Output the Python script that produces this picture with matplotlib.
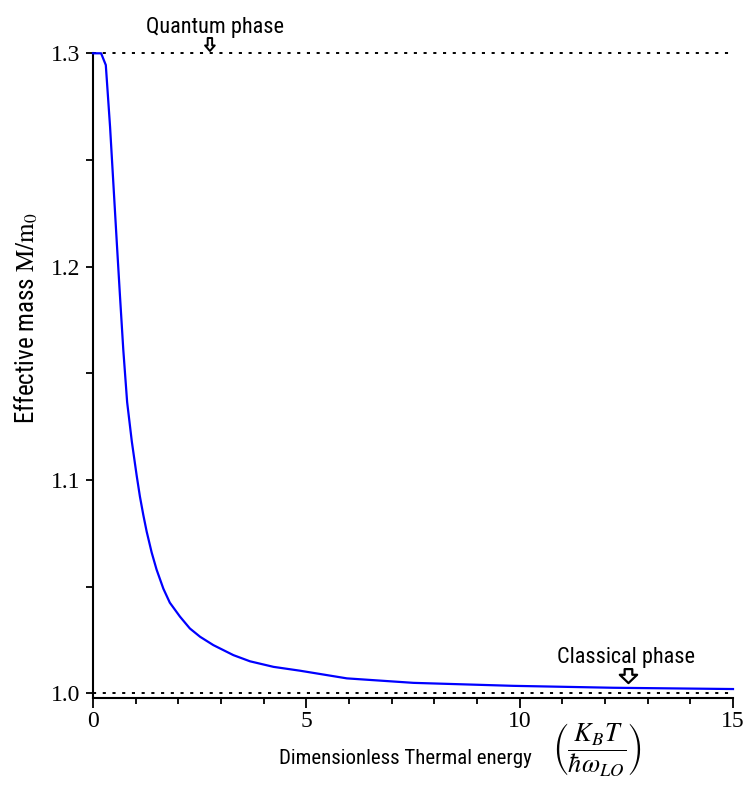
import matplotlib
matplotlib.use("Agg")
import matplotlib.pyplot as plt
from matplotlib import font_manager
from matplotlib.ticker import FixedLocator

# ---- data ----
thermal_energy = [0, 0.19, 0.30, 0.40, 0.48, 0.56, 0.63, 0.71, 0.80, 0.91,
                  1.024, 1.10, 1.18, 1.258, 1.375, 1.49, 1.65, 1.80, 2.04, 2.27,
                  2.51, 2.82, 3.29, 3.68, 4.23, 4.85, 5.95, 7.51, 9.85, 12.19, 15]
effective_mass = [1.3, 1.3, 1.2945, 1.2655, 1.2380, 1.2105, 1.1870, 1.1610,
                  1.1365, 1.1180, 1.1020, 1.0922, 1.0835, 1.0758, 1.0660,
                  1.0580, 1.0490, 1.0425, 1.0359, 1.0304, 1.0265, 1.0226,
                  1.0179, 1.0150, 1.0124, 1.0106, 1.0070, 1.0049, 1.0035,
                  1.0026, 1.0020]
quantum_level = 1.3
classical_level = 1.0
x_major = [0, 5, 10, 15]
x_labels = ["0", "5", "10", "15"]
y_major = [1.0, 1.1, 1.2, 1.3]
y_labels = ["1.0", "1.1", "1.2", "1.3"]
y_minor = [1.05, 1.15, 1.25]
x_minor = list(range(0, 16))

# ---- fonts ----
avail = {f.name for f in font_manager.fontManager.ttflist}
cond = None
for cand in ["Liberation Sans Narrow", "DejaVu Sans Condensed", "Roboto Condensed",
             "Open Sans Condensed", "Noto Sans Display"]:
    if cand in avail:
        cond = cand
        break
if cond is None:
    cond = "Liberation Sans"
serif = "Liberation Serif"
plt.rcParams["mathtext.fontset"] = "stix"

fig = plt.figure(figsize=(7.51, 7.86), dpi=100)
ax = fig.add_axes([93 / 751, 1 - 698.3 / 786, 640 / 751, (698.3 - 53.3) / 786])
ax.set_xlim(0, 15)
ax.set_ylim(0.99766, 1.3)
PX = 1 / 2133.0  # data units of y per pixel

# dotted reference lines
dash = (0, (1.6, 3.4))
ax.plot([0, 15], [quantum_level, quantum_level], color="black", lw=1.4,
        linestyle=dash, clip_on=False, zorder=2)
ax.plot([0, 15], [classical_level, classical_level], color="black", lw=1.4,
        linestyle=dash, clip_on=False, zorder=2)

ax.plot(thermal_energy, effective_mass, color="#0000ff", lw=1.6, clip_on=False,
        zorder=3, solid_joinstyle="round")

for s in ["top", "right"]:
    ax.spines[s].set_visible(False)
for s in ["left", "bottom"]:
    ax.spines[s].set_linewidth(1.5)

ax.xaxis.set_major_locator(FixedLocator(x_major))
ax.xaxis.set_minor_locator(FixedLocator(x_minor))
ax.yaxis.set_major_locator(FixedLocator(y_major))
ax.yaxis.set_minor_locator(FixedLocator(y_minor))
ax.set_xticklabels(x_labels)
ax.set_yticklabels(y_labels)
ax.tick_params(axis="x", which="major", direction="out", length=7, width=1.3, pad=2)
ax.tick_params(axis="x", which="minor", direction="out", length=4, width=1.3)
ax.tick_params(axis="y", which="major", direction="out", length=5, width=1.3, pad=4)
ax.tick_params(axis="y", which="minor", direction="out", length=5, width=1.3)
for lab in ax.get_xticklabels() + ax.get_yticklabels():
    lab.set_fontfamily(serif)
    lab.set_fontsize(17)

# annotations
ax.text(2.86, 1.3 + (53.3 - 33) * PX, "Quantum phase", family=cond, fontsize=16,
        ha="center", va="baseline", clip_on=False)
ax.annotate("", xy=(2.74, 1.3 + (53.3 - 51) * PX), xytext=(2.74, 1.3 + (53.3 - 38) * PX),
            arrowprops=dict(arrowstyle="simple,head_length=0.4,head_width=0.7,tail_width=0.32",
                            fc="white", ec="black", lw=1.4, shrinkA=0, shrinkB=0),
            annotation_clip=False)

ax.text(12.49, 1.3 - (663 - 53.3) * PX, "Classical phase", family=cond, fontsize=16,
        ha="center", va="baseline", clip_on=False)
ax.annotate("", xy=(12.55, 1.3 - (683 - 53.3) * PX), xytext=(12.55, 1.3 - (669 - 53.3) * PX),
            arrowprops=dict(arrowstyle="simple,head_length=0.6,head_width=1.25,tail_width=0.55",
                            fc="white", ec="black", lw=1.6, shrinkA=0, shrinkB=0),
            annotation_clip=False)

# axis labels
fig.text(405 / 751, 1 - 758 / 786, "Dimensionless Thermal energy", family=cond,
         fontsize=15, ha="center", va="center")
fig.text(597 / 751, 1 - 750 / 786,
         r"$\left(\dfrac{K_{B}T}{\hbar\omega_{LO}}\right)$",
         fontsize=19, ha="center", va="center")
fig.text(26 / 751, 1 - 318 / 786, r"Effective mass $\mathrm{M/m_0}$", family=cond,
         fontsize=18, rotation=90, ha="center", va="center")

fig.savefig("out.png", dpi=100)
